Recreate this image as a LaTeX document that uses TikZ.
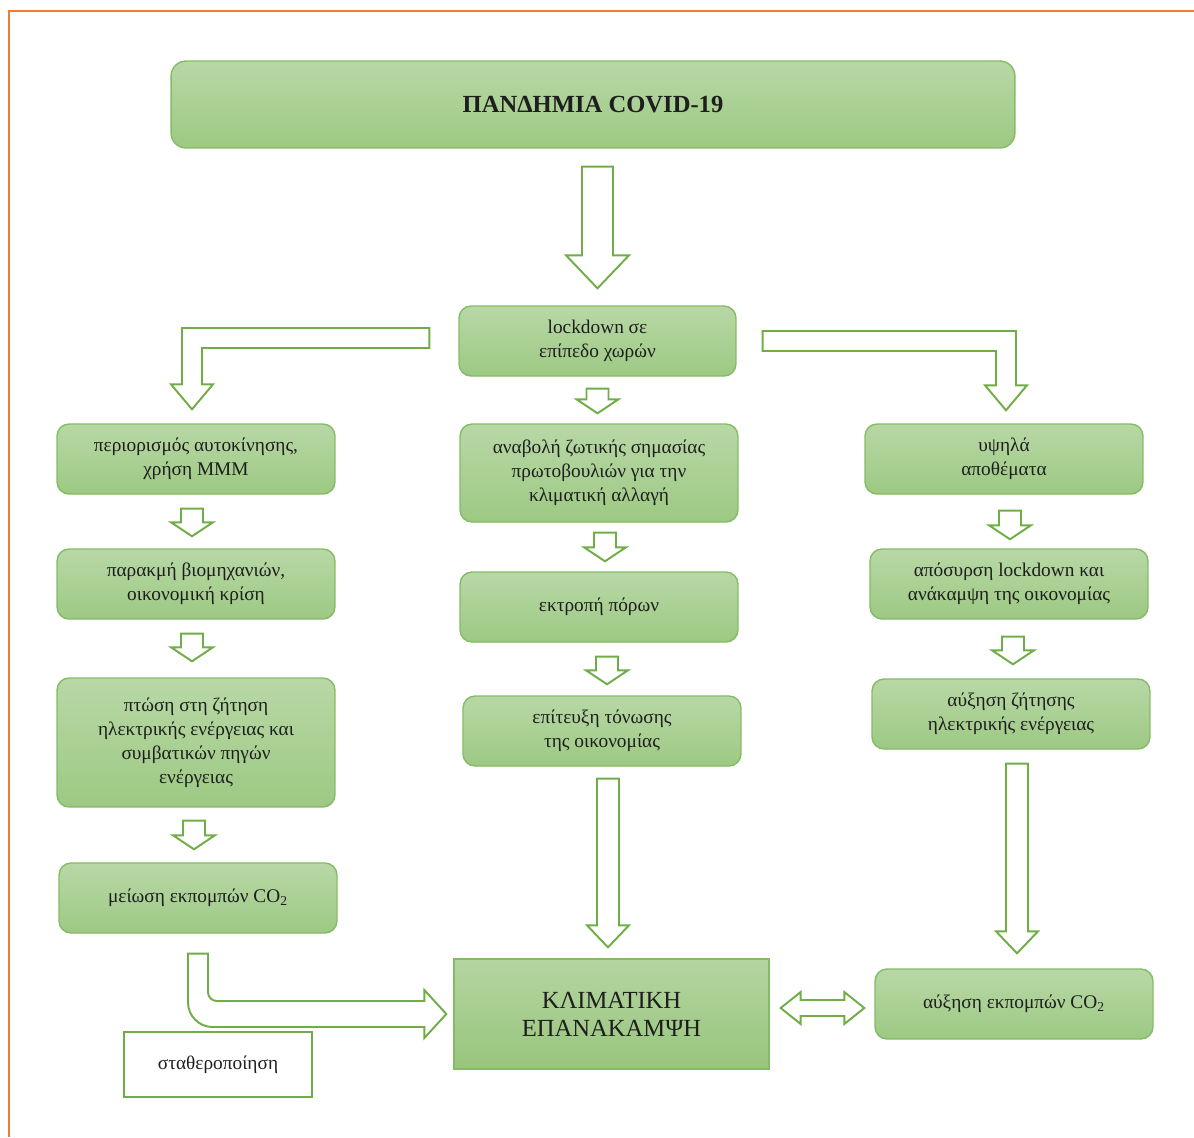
\documentclass[tikz,border=0pt]{standalone}
\usepackage{fontspec}
\setmainfont{Liberation Serif}
\usepackage{tikz}
\usetikzlibrary{positioning,calc}
\definecolor{boxtop}{RGB}{184,216,166}
\definecolor{boxbot}{RGB}{157,201,131}
\definecolor{boxline}{RGB}{132,188,102}
\definecolor{maintop}{RGB}{180,213,160}
\definecolor{mainbot}{RGB}{152,197,125}
\definecolor{arrowgreen}{RGB}{112,173,71}
\definecolor{frameorange}{RGB}{237,125,49}
\definecolor{inktext}{RGB}{30,30,30}
% hollow block arrow pointing down: start, tip, half shaft, half head, head length
\newcommand{\hollowdown}[5]{%
  \draw[Hollow] let \p1=#1, \p2=#2 in
    (\x1-#3,\y1) -- (\x1+#3,\y1) -- (\x1+#3,\y2+#5) -- (\x1+#4,\y2+#5)
    -- (\x1,\y2) -- (\x1-#4,\y2+#5) -- (\x1-#3,\y2+#5) -- cycle;}

\begin{document}
\begin{tikzpicture}
  [
    x=0.02cm, y=-0.02cm,
    Box/.style={rectangle, rounded corners=0.24cm, top color=boxtop, bottom color=boxbot,
      draw=boxline, line width=0.8pt, align=center, text=inktext, inner sep=2pt,
      font=\fontsize{11}{13.7}\selectfont, minimum width=5.56cm, minimum height=1.4cm},
    Main/.style={rectangle, top color=maintop, bottom color=mainbot, draw=boxline,
      line width=0.8pt, align=center, text=inktext, font=\fontsize{14}{16}\selectfont,
      minimum width=6.3cm, minimum height=2.2cm},
    Plain/.style={rectangle, draw=arrowgreen, fill=white, line width=1.1pt, text=inktext,
      font=\fontsize{11}{13.7}\selectfont, minimum width=3.76cm, minimum height=1.3cm},
    Hollow/.style={draw=arrowgreen, fill=white, line width=1.1pt, line join=miter}
  ]
  \useasboundingbox (0,0) rectangle (1194,1137);
  \draw[frameorange, line width=1.6pt] (9,1137) -- (9,11) -- (1194,11);
  % Nodes
  \node[Box, minimum width=16.88cm, minimum height=1.74cm, rounded corners=0.3cm] (title) at (593,104.5)
    {\fontsize{14}{16}\selectfont\bfseries ΠΑΝΔΗΜΙΑ COVID-19};
  \node[Box, minimum width=5.54cm] (lock) at (597.5,341) {lockdown σε\\επίπεδο χωρών};
  \node[Box] (L1) at (196,459) {περιορισμός αυτοκίνησης,\\χρήση ΜΜΜ};
  \node[Box] (L2) at (196,584) {παρακμή βιομηχανιών,\\οικονομική κρίση};
  \node[Box, minimum height=2.58cm] (L3) at (196,742.5)
    {πτώση στη ζήτηση\\ηλεκτρικής ενέργειας και\\συμβατικών πηγών\\ενέργειας};
  \node[Box] (L4) at (198,898) {μείωση εκπομπών CO\textsubscript{2}};
  \node[Box, minimum height=1.96cm] (M1) at (599,473)
    {αναβολή ζωτικής σημασίας\\πρωτοβουλιών για την\\κλιματική αλλαγή};
  \node[Box] (M2) at (599,607) {εκτροπή πόρων};
  \node[Box] (M3) at (602,731) {επίτευξη τόνωσης\\της οικονομίας};
  \node[Box] (R1) at (1004,459) {υψηλά\\αποθέματα};
  \node[Box] (R2) at (1009,584) {απόσυρση lockdown και\\ανάκαμψη της οικονομίας};
  \node[Box] (R3) at (1011,714) {αύξηση ζήτησης\\ηλεκτρικής ενέργειας};
  \node[Main] (K) at (611.5,1014) {ΚΛΙΜΑΤΙΚΗ\\ΕΠΑΝΑΚΑΜΨΗ};
  \node[Box] (aux) at (1014,1004) {αύξηση εκπομπών CO\textsubscript{2}};
  \node[Plain] (stab) at (218,1064.5) {σταθεροποίηση};
  % Arrows
  \hollowdown{($(title.south -| lock.north)+(0,18)$)}{($(lock.north)+(0,-17)$)}{0.31cm}{0.63cm}{0.66cm}
  \hollowdown{($(lock.south)+(0,12)$)}{($(M1.north)+(0,-10)$)}{0.22cm}{0.42cm}{0.28cm}
  \hollowdown{($(L1.south)+(-4,14)$)}{($(L2.north)+(-4,-12)$)}{0.22cm}{0.42cm}{0.28cm}
  \hollowdown{($(L2.south)+(-4,14)$)}{($(L3.north)+(-4,-16)$)}{0.22cm}{0.42cm}{0.28cm}
  \hollowdown{($(L3.south)+(-2,13)$)}{($(L4.north)+(-2,-13)$)}{0.22cm}{0.42cm}{0.28cm}
  \hollowdown{($(M1.south)+(6,10)$)}{($(M2.north)+(6,-10)$)}{0.22cm}{0.42cm}{0.28cm}
  \hollowdown{($(M2.south)+(8,14)$)}{($(M3.north)+(8,-11)$)}{0.22cm}{0.42cm}{0.28cm}
  \hollowdown{($(R1.south)+(6,16)$)}{($(R2.north)+(6,-9)$)}{0.22cm}{0.42cm}{0.28cm}
  \hollowdown{($(R2.south)+(4,17)$)}{($(R3.north)+(4,-14)$)}{0.22cm}{0.42cm}{0.28cm}
  \hollowdown{($(M3.south)+(6,12)$)}{($(K.north)+(0,-11)$)}{0.22cm}{0.42cm}{0.44cm}
  \hollowdown{($(R3.south)+(6,14)$)}{($(aux.north)+(0,-15)$)}{0.22cm}{0.42cm}{0.44cm}
  % bent arrow to the left column
  \draw[Hollow] let \p1=($(lock.west)+(-29,-3)$), \p2=($(L1.north)+(-4,-14)$) in
    (\x1,\y1+0.2cm) -- (\x2-0.2cm,\y1+0.2cm) -- (\x2-0.2cm,\y2+0.5cm) -- (\x2-0.42cm,\y2+0.5cm)
    -- (\x2,\y2) -- (\x2+0.42cm,\y2+0.5cm) -- (\x2+0.2cm,\y2+0.5cm) -- (\x2+0.2cm,\y1-0.2cm)
    -- (\x1,\y1-0.2cm) -- cycle;
  % bent arrow to the right column
  \draw[Hollow] let \p1=($(lock.east)+(26,0)$), \p2=($(R1.north)+(2,-13)$) in
    (\x1,\y1+0.2cm) -- (\x2+0.2cm,\y1+0.2cm) -- (\x2+0.2cm,\y2+0.5cm) -- (\x2+0.42cm,\y2+0.5cm)
    -- (\x2,\y2) -- (\x2-0.42cm,\y2+0.5cm) -- (\x2-0.2cm,\y2+0.5cm) -- (\x2-0.2cm,\y1-0.2cm)
    -- (\x1,\y1-0.2cm) -- cycle;
  % bent arrow from the left column to K
  \draw[Hollow] let \p1=($(L4.south)+(0,20)$), \p2=($(K.west)+(-7,0)$) in
    (\x1-0.2cm,\y1) -- (\x1+0.2cm,\y1) [rounded corners=5pt] -- (\x1+0.2cm,\y2+0.26cm)
    [sharp corners] -- (\x2-0.44cm,\y2+0.26cm) -- (\x2-0.44cm,\y2+0.48cm) -- (\x2,\y2)
    -- (\x2-0.44cm,\y2-0.48cm) -- (\x2-0.44cm,\y2-0.26cm) [rounded corners=14pt]
    -- (\x1-0.2cm,\y2-0.26cm) [sharp corners] -- cycle;
  % double arrow between K and aux
  \draw[Hollow] let \p1=($(K.east)+(11,-6)$), \p2=($(aux.west)+(-10,0)$) in
    (\x1,\y1) -- (\x1+0.4cm,\y1+0.32cm) -- (\x1+0.4cm,\y1+0.16cm) -- (\x2-0.4cm,\y1+0.16cm)
    -- (\x2-0.4cm,\y1+0.32cm) -- (\x2,\y1) -- (\x2-0.4cm,\y1-0.32cm) -- (\x2-0.4cm,\y1-0.16cm)
    -- (\x1+0.4cm,\y1-0.16cm) -- (\x1+0.4cm,\y1-0.32cm) -- cycle;
\end{tikzpicture}
\end{document}
